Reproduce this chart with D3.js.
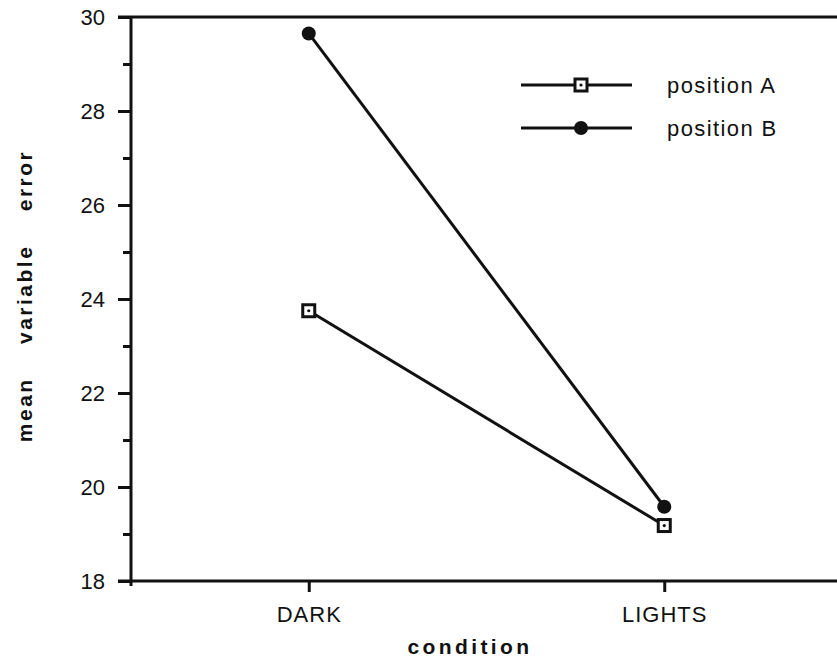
<!DOCTYPE html>
<html><head><meta charset="utf-8">
<script src="https://cdn.jsdelivr.net/npm/d3@7"></script>
<style>body{margin:0;background:#fff;} text{font-family:"Liberation Sans",Arial,sans-serif;fill:#111;}</style>
</head><body>
<svg id="c" width="837" height="666"></svg>
<script>
const categories = ["DARK", "LIGHTS"];
const seriesNames = ["position A", "position B"];
const positionA = [23.75, 19.18];
const positionB = [29.65, 19.58];
const yTicks = [18, 20, 22, 24, 26, 28, 30];
const yMinorTicks = [19, 21, 23, 25, 27, 29];

const svg = d3.select("#c");
const x = d3.scalePoint().domain(categories).range([131, 842]).padding(0.5);
const y = d3.scaleLinear().domain([18, 30]).range([581, 17]);
const ink = "#111";
const FONT = '"Liberation Sans",Arial,sans-serif';

// top border line
svg.append("line").attr("x1", 118).attr("x2", 837).attr("y1", y(30)).attr("y2", y(30))
  .attr("stroke", ink).attr("stroke-width", 3);

// y axis
const ya = svg.append("g").attr("transform", "translate(131,0)")
  .call(d3.axisLeft(y).tickValues(yTicks).tickSize(13).tickPadding(13).tickFormat(d3.format("d")));
ya.select(".domain").remove();
ya.selectAll(".tick line").attr("stroke", ink).attr("stroke-width", 3);
ya.selectAll(".tick text").attr("font-size", 22).style("font-family", FONT).attr("fill", ink).attr("dy", "0.36em");
svg.append("g").attr("transform", "translate(131,0)")
  .call(d3.axisLeft(y).tickValues(yMinorTicks).tickSize(8).tickFormat(""))
  .call(g => { g.select(".domain").remove(); g.selectAll(".tick line").attr("stroke", ink).attr("stroke-width", 3); });
svg.append("line").attr("x1", 131).attr("x2", 131).attr("y1", y(30)).attr("y2", y(18) + 5)
  .attr("stroke", ink).attr("stroke-width", 3);

// x axis
const xa = svg.append("g").attr("transform", `translate(0,${y(18)})`)
  .call(d3.axisBottom(x).tickSize(11).tickPadding(14));
xa.select(".domain").remove();
xa.selectAll(".tick line").attr("stroke", ink).attr("stroke-width", 3);
xa.selectAll(".tick text").attr("font-size", 22).style("font-family", FONT).attr("fill", ink).attr("letter-spacing", 1);
svg.append("line").attr("x1", 118).attr("x2", 837).attr("y1", y(18)).attr("y2", y(18))
  .attr("stroke", ink).attr("stroke-width", 3);

// axis titles
svg.append("text").attr("x", 470).attr("y", 654).attr("text-anchor", "middle")
  .attr("font-size", 21).attr("font-weight", "bold").attr("letter-spacing", 3.4).text("condition");
svg.append("text").attr("transform", "translate(32,296) rotate(-90)").attr("text-anchor", "middle")
  .attr("font-size", 21).attr("font-weight", "bold").attr("letter-spacing", 2.5)
  .style("white-space", "pre").text("mean    variable    error");

// lines
const line = d3.line().x((d, i) => x(categories[i])).y(d => y(d));
const series = [positionA, positionB];
series.forEach(s => {
  svg.append("path").attr("d", line(s)).attr("fill", "none").attr("stroke", ink).attr("stroke-width", 3);
});

function squareMarker(g, cx, cy) {
  g.append("rect").attr("x", cx - 6).attr("y", cy - 6).attr("width", 12).attr("height", 12)
    .attr("fill", "#fff").attr("stroke", ink).attr("stroke-width", 3);
  g.append("circle").attr("cx", cx).attr("cy", cy).attr("r", 1.6).attr("fill", ink);
}
function dotMarker(g, cx, cy) {
  g.append("circle").attr("cx", cx).attr("cy", cy).attr("r", 7).attr("fill", ink);
}
positionA.forEach((v, i) => squareMarker(svg, x(categories[i]), y(v)));
positionB.forEach((v, i) => dotMarker(svg, x(categories[i]), y(v)));

// legend
const legY = [85, 128];
const markers = [squareMarker, dotMarker];
seriesNames.forEach((n, i) => {
  svg.append("line").attr("x1", 521).attr("x2", 632).attr("y1", legY[i]).attr("y2", legY[i])
    .attr("stroke", ink).attr("stroke-width", 3);
  markers[i](svg, 581, legY[i]);
  svg.append("text").attr("x", 667).attr("y", legY[i] + 8).attr("font-size", 22).attr("letter-spacing", 1.4).text(n);
});
</script>
</body></html>
